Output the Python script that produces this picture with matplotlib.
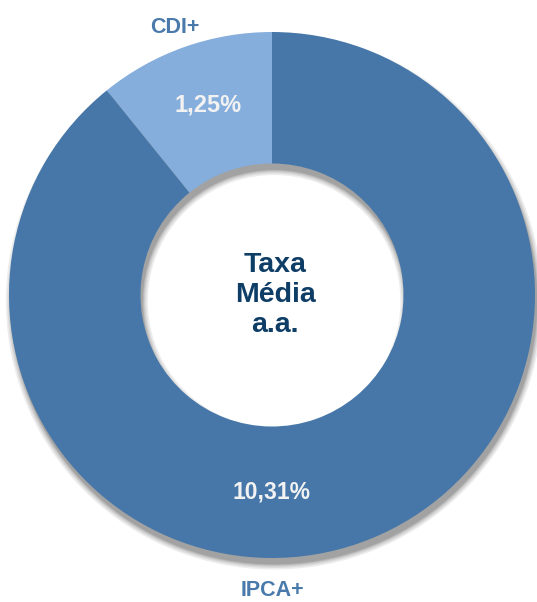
import matplotlib
matplotlib.use("Agg")
import matplotlib.pyplot as plt

# ---------------- Data ----------------
labels = ['CDI+', 'IPCA+']
values = [1.25, 10.31]
value_text = ['1,25%', '10,31%']
colors = ['#85AEDC', '#4677A8']
center_text = 'Taxa\nMédia\na.a.'

plt.rcParams['font.family'] = ['Liberation Sans', 'DejaVu Sans']

fig = plt.figure(figsize=(5.37, 6.02), dpi=100)
ax = fig.add_axes([0, 0, 1, 1])

# ---------------- Soft shadow ----------------
dx, dy = 0.008, -0.024
for e in [0.020, 0.014, 0.009, 0.005, 0.002, 0.0]:
    ax.pie(values, radius=1 + e, center=(dx, dy), startangle=90,
           colors=['#000000'] * len(values),
           wedgeprops=dict(width=0.5 + 2 * e, alpha=0.07, linewidth=0))

# ---------------- Donut ----------------
wedges, _ = ax.pie(values, radius=1, startangle=90, colors=colors,
                   wedgeprops=dict(width=0.5, linewidth=0))

# percentage labels inside the ring
ax.text(-0.243, 0.722, value_text[0], ha='center', va='center',
        fontsize=17, fontweight='bold', color='#F2F2F2')
ax.text(0.0, -0.749, value_text[1], ha='center', va='center',
        fontsize=16.5, fontweight='bold', color='#F2F2F2')

# category labels outside
ax.text(-0.369, 1.019, labels[0], ha='center', va='center',
        fontsize=15.5, fontweight='bold', color='#4A7AAB')
ax.text(0.0, -1.122, labels[1], ha='center', va='center',
        fontsize=15.5, fontweight='bold', color='#4A7AAB')

# center text
ax.text(0.012, 0.0, center_text, ha='center', va='center', fontsize=20.5,
        fontweight='bold', color='#0E3D66', linespacing=1.2)

ax.set_xlim(-272 / 263, (537 - 272) / 263)
ax.set_ylim(-(602 - 295) / 263, 295 / 263)
ax.set_aspect('auto')
ax.axis('off')

fig.savefig('out.png', dpi=100)
